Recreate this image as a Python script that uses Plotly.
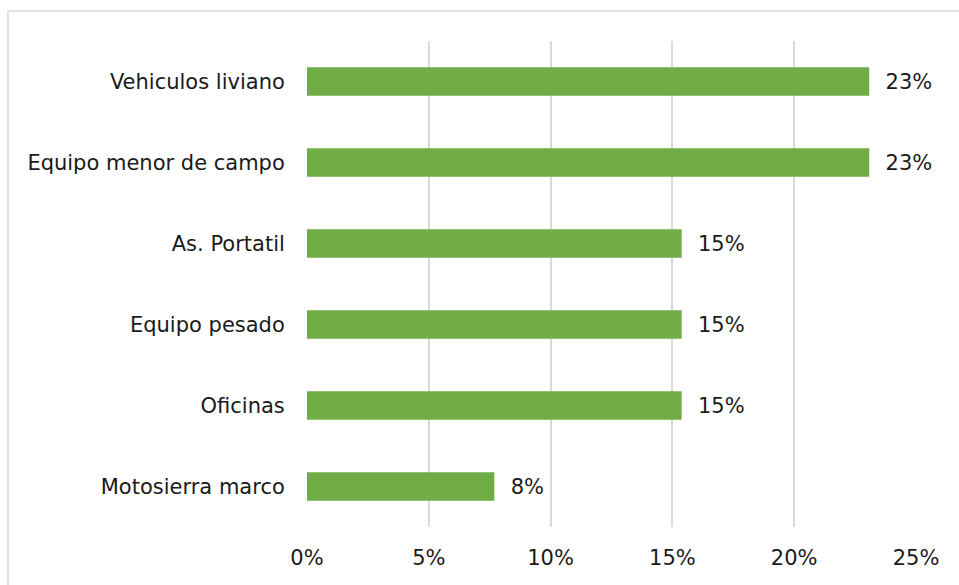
import plotly.graph_objects as go

# Share of items per category (fractions of the total)
categories = ["Vehiculos liviano", "Equipo menor de campo", "As. Portatil",
              "Equipo pesado", "Oficinas", "Motosierra marco"]
shares = [0.2308, 0.2308, 0.1538, 0.1538, 0.1538, 0.0769]
tick_values = [0, 0.05, 0.10, 0.15, 0.20, 0.25]
tick_labels = ["0%", "5%", "10%", "15%", "20%", "25%"]

W, H = 959, 585
M_L, M_R, M_T, M_B = 307, 43, 41, 58
PW, PH = W - M_L - M_R, H - M_T - M_B

FONT = dict(family="DejaVu Sans", size=21, color="#1a1a1a")
GRID = "#d9d9d9"


def px_x(p):
    return (p - M_L) / PW


def px_y(p):
    return (H - M_B - p) / PH


fig = go.Figure(
    go.Bar(
        x=shares,
        y=categories,
        orientation="h",
        marker=dict(color="#70ad47", line=dict(width=0)),
        texttemplate="\u00a0\u00a0%{x:.0%}",
        textposition="outside",
        textfont=FONT,
        cliponaxis=False,
        hoverinfo="skip",
    )
)

fig.update_layout(
    width=W,
    height=H,
    margin=dict(l=M_L, r=M_R, t=M_T, b=M_B, autoexpand=False),
    paper_bgcolor="white",
    plot_bgcolor="white",
    showlegend=False,
    bargap=0.65,
    font=FONT,
    uniformtext=dict(mode=False),
    shapes=[
        # outer chart frame
        dict(type="rect", xref="paper", yref="paper",
             x0=px_x(8), x1=px_x(965), y0=px_y(600), y1=px_y(11),
             line=dict(color=GRID, width=1.5), fillcolor="rgba(0,0,0,0)",
             layer="below"),
    ],
)

fig.update_xaxes(
    range=[0, 0.25],
    tickvals=tick_values,
    ticktext=tick_labels,
    showgrid=True,
    gridcolor=GRID,
    gridwidth=2,
    zeroline=False,
    showline=False,
    ticks="outside",
    ticklen=12,
    tickcolor="rgba(0,0,0,0)",
    tickfont=FONT,
    fixedrange=True,
)

fig.update_yaxes(
    categoryorder="array",
    categoryarray=categories[::-1],
    showgrid=False,
    zeroline=False,
    showline=False,
    ticks="outside",
    ticklen=17,
    tickcolor="rgba(0,0,0,0)",
    tickfont=FONT,
    fixedrange=True,
)

fig.write_html("out.html", config=dict(displayModeBar=False))
